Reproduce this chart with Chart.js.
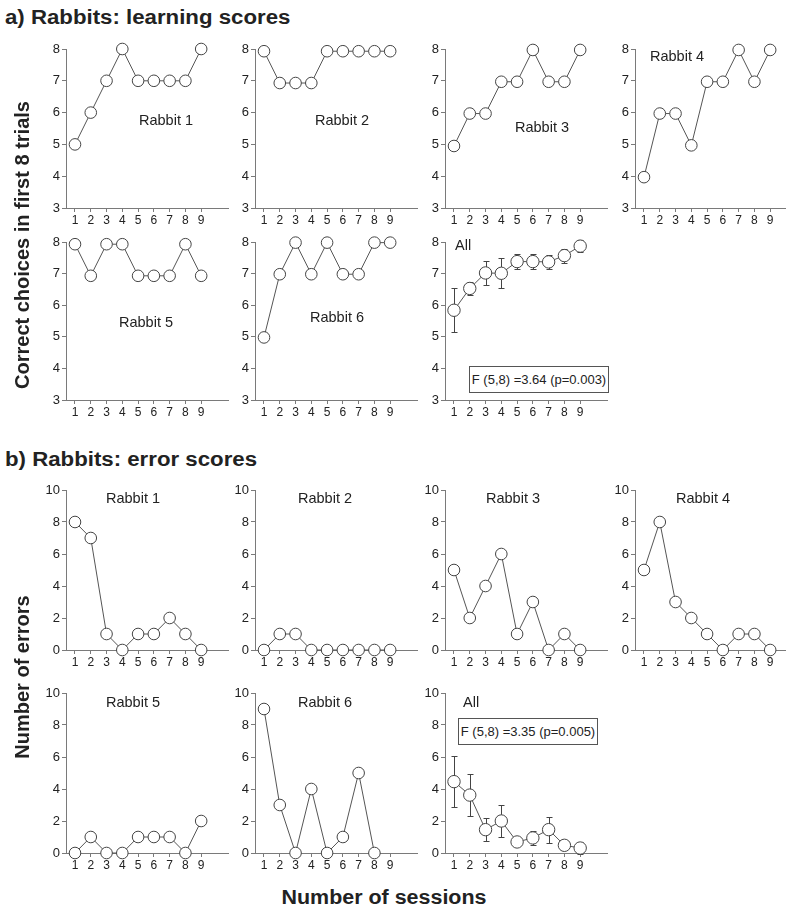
<!DOCTYPE html>
<html><head><meta charset="utf-8">
<script src="https://cdn.jsdelivr.net/npm/chart.js@4/dist/chart.umd.min.js"></script>
<style>
body{margin:0;background:#fff;width:786px;height:909px;position:relative;overflow:hidden;font-family:"Liberation Sans",Arial,sans-serif;}
canvas{position:absolute;}
.t{position:absolute;white-space:nowrap;color:#222;line-height:1;}
.box{position:absolute;border:1px solid #555;box-sizing:border-box;font-size:13px;color:#222;display:flex;align-items:center;justify-content:center;white-space:nowrap;background:#fff;}
</style></head><body>
<script>
// ---------- data ----------
const sessions=[1,2,3,4,5,6,7,8,9];
const learnRabbit1=[5,6,7,8,7,7,7,7,8];
const learnRabbit2=[7.93,6.93,6.93,6.93,7.93,7.93,7.93,7.93,7.93];
const learnRabbit3=[4.95,5.97,5.97,6.97,6.97,7.97,6.97,6.97,7.97];
const learnRabbit4=[3.97,5.97,5.97,4.97,6.97,6.97,7.97,6.97,7.97];
const learnRabbit5=[7.93,6.93,7.93,7.93,6.93,6.93,6.93,7.93,6.93];
const learnRabbit6=[4.98,6.98,7.98,6.98,7.98,6.98,6.98,7.98,7.98];
const learnAllMean=[5.84,6.53,7.02,7.01,7.38,7.38,7.37,7.57,7.87];
const learnAllSem=[0.70,0.22,0.38,0.47,0.23,0.23,0.23,0.22,0.18];
const errRabbit1=[8,7,1,0,1,1,2,1,0];
const errRabbit2=[0,1,1,0,0,0,0,0,0];
const errRabbit3=[5,2,4,6,1,3,0,1,0];
const errRabbit4=[5,8,3,2,1,0,1,1,0];
const errRabbit5=[0,1,0,0,1,1,1,0,2];
const errRabbit6=[9,3,0,4,0,1,5,0,null];
const errAllMean=[4.46,3.62,1.46,2.0,0.69,0.94,1.46,0.48,0.31];
const errAllSem=[1.6,1.29,0.7,1.0,0.2,0.43,0.82,0.2,0.36];
const learnYRange=[3,8];
const errYRange=[0,10];

// ---------- helpers ----------
const errorBarPlugin={id:'errbars',beforeDatasetsDraw(chart){
  const d=chart.data.datasets[0]; if(!d.sem) return;
  const ctx=chart.ctx, xs=chart.scales.x, ys=chart.scales.y;
  ctx.save(); ctx.strokeStyle='#444'; ctx.lineWidth=1;
  d.sem.forEach((e,i)=>{const p=d.data[i]; if(p.y==null) return;
    const x=Math.round(xs.getPixelForValue(p.x))+0.5;
    const yt=Math.round(ys.getPixelForValue(p.y+e))+0.5, yb=Math.round(ys.getPixelForValue(p.y-e))+0.5;
    ctx.beginPath(); ctx.moveTo(x,yt); ctx.lineTo(x,yb);
    ctx.moveTo(x-3,yt); ctx.lineTo(x+3,yt); ctx.moveTo(x-3,yb); ctx.lineTo(x+3,yb); ctx.stroke();});
  ctx.restore();}};

const AX='#7a7a7a', TK='#222';
function makePanel(x0,y0,y1,vals,range,step,labelEvery,sem,rad){
  const padTop=10, yw=40, xh=26, W=yw+162+14;
  const H=Math.round(y1-y0)+padTop+xh;
  const c=document.createElement('canvas'); c.width=W; c.height=H;
  c.style.left=(x0-yw)+'px'; c.style.top=(Math.round(y0)-padTop)+'px';
  document.body.appendChild(c);
  const ds={data:sessions.map((s,i)=>({x:s,y:vals[i]})),borderColor:'#555',borderWidth:1,
    pointRadius:rad||5.8,pointBackgroundColor:'#fff',pointBorderColor:'#444',pointBorderWidth:1,clip:false};
  if(sem) ds.sem=sem;
  new Chart(c,{type:'line',data:{datasets:[ds]},plugins:[errorBarPlugin],
    options:{responsive:false,animation:false,events:[],
      layout:{padding:{top:padTop,right:14,left:0,bottom:0}},
      plugins:{legend:{display:false},tooltip:{enabled:false}},
      scales:{
        x:{type:'linear',min:0.43,max:10.7,
          afterBuildTicks:s=>{s.ticks=sessions.map(v=>({value:v}));},
          afterFit:s=>{s.height=xh;},
          ticks:{stepSize:1,includeBounds:false,autoSkip:false,maxRotation:0,color:TK,padding:1,font:{family:'Liberation Sans',size:12}},
          grid:{drawOnChartArea:false,tickLength:4,color:AX},border:{color:AX}},
        y:{type:'linear',min:range[0],max:range[1],
          afterFit:s=>{s.width=yw;},
          ticks:{stepSize:step,color:TK,padding:2,font:{family:'Liberation Sans',size:13},
            callback:v=>(v%labelEvery===0?v:'')},
          grid:{drawOnChartArea:false,tickLength:4,color:AX},border:{color:AX}}
      }}});
}
function txt(s,cx,cy,size,bold,align,extra){
  const d=document.createElement('div'); d.className='t'; d.textContent=s;
  d.style.fontSize=size+'px'; if(bold) d.style.fontWeight='bold';
  d.style.left=cx+'px'; d.style.top=cy+'px';
  d.style.transform=(align==='left'?'translate(0,-50%)':'translate(-50%,-50%)')+(extra||'');
  d.style.transformOrigin=align==='left'?'left center':'center center';
  document.body.appendChild(d);
}
function box(s,l,t,w,h){const d=document.createElement('div');d.className='box';d.textContent=s;
  d.style.left=l+'px';d.style.top=t+'px';d.style.width=w+'px';d.style.height=h+'px';document.body.appendChild(d);}

// ---------- panels ----------
const colX=[66,255,445,635];
// a) learning
makePanel(colX[0],49,207.5,learnRabbit1,learnYRange,1,1);
makePanel(colX[1],49,207.5,learnRabbit2,learnYRange,1,1);
makePanel(colX[2],49,207.5,learnRabbit3,learnYRange,1,1);
makePanel(colX[3],49,207.5,learnRabbit4,learnYRange,1,1);
makePanel(colX[0],241.7,400,learnRabbit5,learnYRange,1,1);
makePanel(colX[1],241.7,400,learnRabbit6,learnYRange,1,1);
makePanel(colX[2],241.7,400,learnAllMean,learnYRange,1,1,learnAllSem,6.2);
// b) errors
makePanel(colX[0],490,650,errRabbit1,errYRange,1,2);
makePanel(colX[1],490,650,errRabbit2,errYRange,1,2);
makePanel(colX[2],490,650,errRabbit3,errYRange,1,2);
makePanel(colX[3],490,650,errRabbit4,errYRange,1,2);
makePanel(colX[0],693,853,errRabbit5,errYRange,1,2);
makePanel(colX[1],693,853,errRabbit6,errYRange,1,2);
makePanel(colX[2],693,853,errAllMean,errYRange,1,2,errAllSem,6.2);

// ---------- text ----------
txt('a) Rabbits: learning scores',5,17.5,19.5,true,'left',' scaleX(1.14)');
txt('b) Rabbits: error scores',5,460,19.5,true,'left',' scaleX(1.14)');
txt('Number of sessions',384,898,19.5,true,'center',' scaleX(1.1)');
txt('Correct choices in first 8 trials',22,245,20,true,'center',' rotate(-90deg)');
txt('Number of errors',22,677,20,true,'center',' rotate(-90deg)');

txt('Rabbit 1',166,120,14.5); txt('Rabbit 2',342,120,14.5); txt('Rabbit 3',542,127,14.5); txt('Rabbit 4',677,56,14.5);
txt('Rabbit 5',146,322,14.5); txt('Rabbit 6',337,317,14.5); txt('All',455,245,14.5,false,'left');
box('F (5,8) =3.64 (p=0.003)',469,366,140,27);

txt('Rabbit 1',133,498,14.5); txt('Rabbit 2',325,498,14.5); txt('Rabbit 3',513,498,14.5); txt('Rabbit 4',703,498,14.5);
txt('Rabbit 5',133,702,14.5); txt('Rabbit 6',325,702,14.5); txt('All',463,702,14.5,false,'left');
box('F (5,8) =3.35 (p=0.005)',458,718,140,27);
</script>
</body></html>
